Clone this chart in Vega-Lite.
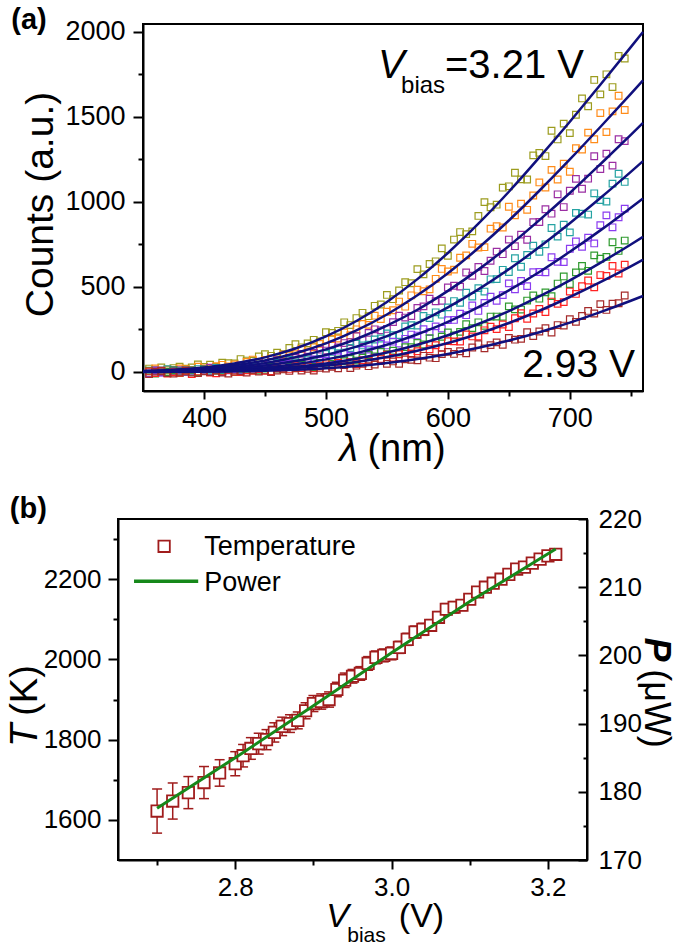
{
"$schema": "https://vega.github.io/schema/vega-lite/v6.json",
"background": "white",
"padding": {"left": 5, "top": 5, "right": 8, "bottom": 0},
"spacing": 25,
"center": true,
"config": {
  "font": "Liberation Sans",
  "view": {"stroke": "black", "strokeWidth": 2},
  "axis": {"grid": false, "domainColor": "black", "domainWidth": 2, "tickColor": "black", "tickWidth": 2, "labelColor": "black", "labelFontSize": 27, "titleColor": "black", "titleFontWeight": "normal", "labelFlush": false, "labelOverlap": false, "labelBound": false, "titleAlign": "center", "titleBaseline": "middle", "format": "d"},
  "text": {"color": "black"}
},
"datasets": {
"pts": [
{"s":"3.21","l":355,"c":20},{"s":"3.21","l":360,"c":11},{"s":"3.21","l":365,"c":27},{"s":"3.21","l":370,"c":10},{"s":"3.21","l":375,"c":23},{"s":"3.21","l":380,"c":31},{"s":"3.21","l":385,"c":19},{"s":"3.21","l":390,"c":26},{"s":"3.21","l":395,"c":44},{"s":"3.21","l":400,"c":30},
{"s":"3.21","l":405,"c":43},{"s":"3.21","l":410,"c":30},{"s":"3.21","l":415,"c":54},{"s":"3.21","l":420,"c":52},{"s":"3.21","l":425,"c":50},{"s":"3.21","l":430,"c":76},{"s":"3.21","l":435,"c":67},{"s":"3.21","l":440,"c":66},{"s":"3.21","l":445,"c":91},{"s":"3.21","l":450,"c":105},
{"s":"3.21","l":455,"c":95},{"s":"3.21","l":460,"c":113},{"s":"3.21","l":465,"c":104},{"s":"3.21","l":470,"c":141},{"s":"3.21","l":475,"c":163},{"s":"3.21","l":480,"c":145},{"s":"3.21","l":485,"c":168},{"s":"3.21","l":490,"c":189},{"s":"3.21","l":495,"c":180},{"s":"3.21","l":500,"c":234},
{"s":"3.21","l":505,"c":230},{"s":"3.21","l":510,"c":242},{"s":"3.21","l":515,"c":292},{"s":"3.21","l":520,"c":276},{"s":"3.21","l":525,"c":317},{"s":"3.21","l":530,"c":348},{"s":"3.21","l":535,"c":328},{"s":"3.21","l":540,"c":389},{"s":"3.21","l":545,"c":397},{"s":"3.21","l":550,"c":453},
{"s":"3.21","l":555,"c":428},{"s":"3.21","l":560,"c":479},{"s":"3.21","l":565,"c":528},{"s":"3.21","l":570,"c":522},{"s":"3.21","l":575,"c":605},{"s":"3.21","l":580,"c":574},{"s":"3.21","l":585,"c":635},{"s":"3.21","l":590,"c":651},{"s":"3.21","l":595,"c":727},{"s":"3.21","l":600,"c":683},
{"s":"3.21","l":605,"c":779},{"s":"3.21","l":610,"c":823},{"s":"3.21","l":615,"c":811},{"s":"3.21","l":620,"c":827},{"s":"3.21","l":625,"c":918},{"s":"3.21","l":630,"c":999},{"s":"3.21","l":635,"c":969},{"s":"3.21","l":640,"c":984},{"s":"3.21","l":645,"c":1084},{"s":"3.21","l":650,"c":1092},
{"s":"3.21","l":655,"c":1172},{"s":"3.21","l":660,"c":1133},{"s":"3.21","l":665,"c":1132},{"s":"3.21","l":670,"c":1274},{"s":"3.21","l":675,"c":1289},{"s":"3.21","l":680,"c":1270},{"s":"3.21","l":685,"c":1419},{"s":"3.21","l":690,"c":1368},{"s":"3.21","l":695,"c":1461},{"s":"3.21","l":700,"c":1405},
{"s":"3.21","l":705,"c":1513},{"s":"3.21","l":710,"c":1609},{"s":"3.21","l":715,"c":1563},{"s":"3.21","l":720,"c":1718},{"s":"3.21","l":725,"c":1633},{"s":"3.21","l":730,"c":1751},{"s":"3.21","l":735,"c":1676},{"s":"3.21","l":740,"c":1859},{"s":"3.21","l":745,"c":1844},
{"s":"3.17","l":355,"c":6},{"s":"3.17","l":360,"c":21},{"s":"3.17","l":365,"c":6},{"s":"3.17","l":370,"c":15},{"s":"3.17","l":375,"c":2},{"s":"3.17","l":380,"c":21},{"s":"3.17","l":385,"c":16},{"s":"3.17","l":390,"c":12},{"s":"3.17","l":395,"c":31},{"s":"3.17","l":400,"c":21},
{"s":"3.17","l":405,"c":17},{"s":"3.17","l":410,"c":34},{"s":"3.17","l":415,"c":42},{"s":"3.17","l":420,"c":33},{"s":"3.17","l":425,"c":44},{"s":"3.17","l":430,"c":34},{"s":"3.17","l":435,"c":59},{"s":"3.17","l":440,"c":73},{"s":"3.17","l":445,"c":56},{"s":"3.17","l":450,"c":71},
{"s":"3.17","l":455,"c":80},{"s":"3.17","l":460,"c":71},{"s":"3.17","l":465,"c":102},{"s":"3.17","l":470,"c":97},{"s":"3.17","l":475,"c":104},{"s":"3.17","l":480,"c":136},{"s":"3.17","l":485,"c":120},{"s":"3.17","l":490,"c":145},{"s":"3.17","l":495,"c":165},{"s":"3.17","l":500,"c":150},
{"s":"3.17","l":505,"c":194},{"s":"3.17","l":510,"c":197},{"s":"3.17","l":515,"c":233},{"s":"3.17","l":520,"c":216},{"s":"3.17","l":525,"c":251},{"s":"3.17","l":530,"c":282},{"s":"3.17","l":535,"c":277},{"s":"3.17","l":540,"c":331},{"s":"3.17","l":545,"c":311},{"s":"3.17","l":550,"c":354},
{"s":"3.17","l":555,"c":363},{"s":"3.17","l":560,"c":414},{"s":"3.17","l":565,"c":384},{"s":"3.17","l":570,"c":451},{"s":"3.17","l":575,"c":484},{"s":"3.17","l":580,"c":475},{"s":"3.17","l":585,"c":486},{"s":"3.17","l":590,"c":548},{"s":"3.17","l":595,"c":606},{"s":"3.17","l":600,"c":591},
{"s":"3.17","l":605,"c":602},{"s":"3.17","l":610,"c":672},{"s":"3.17","l":615,"c":686},{"s":"3.17","l":620,"c":754},{"s":"3.17","l":625,"c":732},{"s":"3.17","l":630,"c":734},{"s":"3.17","l":635,"c":843},{"s":"3.17","l":640,"c":857},{"s":"3.17","l":645,"c":850},{"s":"3.17","l":650,"c":972},
{"s":"3.17","l":655,"c":922},{"s":"3.17","l":660,"c":990},{"s":"3.17","l":665,"c":954},{"s":"3.17","l":670,"c":1038},{"s":"3.17","l":675,"c":1115},{"s":"3.17","l":680,"c":1085},{"s":"3.17","l":685,"c":1189},{"s":"3.17","l":690,"c":1132},{"s":"3.17","l":695,"c":1225},{"s":"3.17","l":700,"c":1178},
{"s":"3.17","l":705,"c":1316},{"s":"3.17","l":710,"c":1308},{"s":"3.17","l":715,"c":1408},{"s":"3.17","l":720,"c":1369},{"s":"3.17","l":725,"c":1523},{"s":"3.17","l":730,"c":1411},{"s":"3.17","l":735,"c":1533},{"s":"3.17","l":740,"c":1625},{"s":"3.17","l":745,"c":1541},
{"s":"3.13","l":355,"c":-8},{"s":"3.13","l":360,"c":9},{"s":"3.13","l":365,"c":-2},{"s":"3.13","l":370,"c":-7},{"s":"3.13","l":375,"c":6},{"s":"3.13","l":380,"c":11},{"s":"3.13","l":385,"c":0},{"s":"3.13","l":390,"c":8},{"s":"3.13","l":395,"c":-2},{"s":"3.13","l":400,"c":16},
{"s":"3.13","l":405,"c":25},{"s":"3.13","l":410,"c":9},{"s":"3.13","l":415,"c":18},{"s":"3.13","l":420,"c":25},{"s":"3.13","l":425,"c":15},{"s":"3.13","l":430,"c":38},{"s":"3.13","l":435,"c":31},{"s":"3.13","l":440,"c":33},{"s":"3.13","l":445,"c":56},{"s":"3.13","l":450,"c":41},
{"s":"3.13","l":455,"c":58},{"s":"3.13","l":460,"c":70},{"s":"3.13","l":465,"c":57},{"s":"3.13","l":470,"c":83},{"s":"3.13","l":475,"c":83},{"s":"3.13","l":480,"c":106},{"s":"3.13","l":485,"c":90},{"s":"3.13","l":490,"c":112},{"s":"3.13","l":495,"c":131},{"s":"3.13","l":500,"c":126},
{"s":"3.13","l":505,"c":161},{"s":"3.13","l":510,"c":144},{"s":"3.13","l":515,"c":170},{"s":"3.13","l":520,"c":176},{"s":"3.13","l":525,"c":210},{"s":"3.13","l":530,"c":187},{"s":"3.13","l":535,"c":230},{"s":"3.13","l":540,"c":251},{"s":"3.13","l":545,"c":245},{"s":"3.13","l":550,"c":253},
{"s":"3.13","l":555,"c":293},{"s":"3.13","l":560,"c":331},{"s":"3.13","l":565,"c":320},{"s":"3.13","l":570,"c":329},{"s":"3.13","l":575,"c":377},{"s":"3.13","l":580,"c":386},{"s":"3.13","l":585,"c":431},{"s":"3.13","l":590,"c":416},{"s":"3.13","l":595,"c":419},{"s":"3.13","l":600,"c":497},
{"s":"3.13","l":605,"c":507},{"s":"3.13","l":610,"c":502},{"s":"3.13","l":615,"c":585},{"s":"3.13","l":620,"c":566},{"s":"3.13","l":625,"c":618},{"s":"3.13","l":630,"c":594},{"s":"3.13","l":635,"c":654},{"s":"3.13","l":640,"c":708},{"s":"3.13","l":645,"c":693},{"s":"3.13","l":650,"c":779},
{"s":"3.13","l":655,"c":740},{"s":"3.13","l":660,"c":808},{"s":"3.13","l":665,"c":778},{"s":"3.13","l":670,"c":881},{"s":"3.13","l":675,"c":882},{"s":"3.13","l":680,"c":957},{"s":"3.13","l":685,"c":931},{"s":"3.13","l":690,"c":1045},{"s":"3.13","l":695,"c":970},{"s":"3.13","l":700,"c":1066},
{"s":"3.13","l":705,"c":1136},{"s":"3.13","l":710,"c":1078},{"s":"3.13","l":715,"c":1137},{"s":"3.13","l":720,"c":1269},{"s":"3.13","l":725,"c":1194},{"s":"3.13","l":730,"c":1284},{"s":"3.13","l":735,"c":1214},{"s":"3.13","l":740,"c":1369},{"s":"3.13","l":745,"c":1358},
{"s":"3.09","l":355,"c":4},{"s":"3.09","l":360,"c":-7},{"s":"3.09","l":365,"c":9},{"s":"3.09","l":370,"c":16},{"s":"3.09","l":375,"c":-1},{"s":"3.09","l":380,"c":6},{"s":"3.09","l":385,"c":10},{"s":"3.09","l":390,"c":0},{"s":"3.09","l":395,"c":17},{"s":"3.09","l":400,"c":9},
{"s":"3.09","l":405,"c":8},{"s":"3.09","l":410,"c":24},{"s":"3.09","l":415,"c":10},{"s":"3.09","l":420,"c":20},{"s":"3.09","l":425,"c":27},{"s":"3.09","l":430,"c":12},{"s":"3.09","l":435,"c":31},{"s":"3.09","l":440,"c":28},{"s":"3.09","l":445,"c":43},{"s":"3.09","l":450,"c":28},
{"s":"3.09","l":455,"c":42},{"s":"3.09","l":460,"c":54},{"s":"3.09","l":465,"c":47},{"s":"3.09","l":470,"c":71},{"s":"3.09","l":475,"c":56},{"s":"3.09","l":480,"c":73},{"s":"3.09","l":485,"c":74},{"s":"3.09","l":490,"c":95},{"s":"3.09","l":495,"c":77},{"s":"3.09","l":500,"c":106},
{"s":"3.09","l":505,"c":118},{"s":"3.09","l":510,"c":111},{"s":"3.09","l":515,"c":114},{"s":"3.09","l":520,"c":141},{"s":"3.09","l":525,"c":166},{"s":"3.09","l":530,"c":156},{"s":"3.09","l":535,"c":160},{"s":"3.09","l":540,"c":191},{"s":"3.09","l":545,"c":197},{"s":"3.09","l":550,"c":227},
{"s":"3.09","l":555,"c":216},{"s":"3.09","l":560,"c":217},{"s":"3.09","l":565,"c":268},{"s":"3.09","l":570,"c":275},{"s":"3.09","l":575,"c":273},{"s":"3.09","l":580,"c":329},{"s":"3.09","l":585,"c":317},{"s":"3.09","l":590,"c":351},{"s":"3.09","l":595,"c":337},{"s":"3.09","l":600,"c":380},
{"s":"3.09","l":605,"c":417},{"s":"3.09","l":610,"c":407},{"s":"3.09","l":615,"c":466},{"s":"3.09","l":620,"c":443},{"s":"3.09","l":625,"c":493},{"s":"3.09","l":630,"c":473},{"s":"3.09","l":635,"c":545},{"s":"3.09","l":640,"c":546},{"s":"3.09","l":645,"c":601},{"s":"3.09","l":650,"c":588},
{"s":"3.09","l":655,"c":669},{"s":"3.09","l":660,"c":619},{"s":"3.09","l":665,"c":688},{"s":"3.09","l":670,"c":743},{"s":"3.09","l":675,"c":707},{"s":"3.09","l":680,"c":751},{"s":"3.09","l":685,"c":847},{"s":"3.09","l":690,"c":796},{"s":"3.09","l":695,"c":866},{"s":"3.09","l":700,"c":821},
{"s":"3.09","l":705,"c":936},{"s":"3.09","l":710,"c":931},{"s":"3.09","l":715,"c":926},{"s":"3.09","l":720,"c":1051},{"s":"3.09","l":725,"c":1011},{"s":"3.09","l":730,"c":1002},{"s":"3.09","l":735,"c":1108},{"s":"3.09","l":740,"c":1166},{"s":"3.09","l":745,"c":1118},
{"s":"3.05","l":355,"c":-10},{"s":"3.05","l":360,"c":7},{"s":"3.05","l":365,"c":-3},{"s":"3.05","l":370,"c":-4},{"s":"3.05","l":375,"c":10},{"s":"3.05","l":380,"c":-5},{"s":"3.05","l":385,"c":3},{"s":"3.05","l":390,"c":8},{"s":"3.05","l":395,"c":-7},{"s":"3.05","l":400,"c":8},
{"s":"3.05","l":405,"c":3},{"s":"3.05","l":410,"c":14},{"s":"3.05","l":415,"c":0},{"s":"3.05","l":420,"c":10},{"s":"3.05","l":425,"c":18},{"s":"3.05","l":430,"c":10},{"s":"3.05","l":435,"c":27},{"s":"3.05","l":440,"c":13},{"s":"3.05","l":445,"c":25},{"s":"3.05","l":450,"c":24},
{"s":"3.05","l":455,"c":39},{"s":"3.05","l":460,"c":22},{"s":"3.05","l":465,"c":41},{"s":"3.05","l":470,"c":49},{"s":"3.05","l":475,"c":41},{"s":"3.05","l":480,"c":41},{"s":"3.05","l":485,"c":58},{"s":"3.05","l":490,"c":74},{"s":"3.05","l":495,"c":65},{"s":"3.05","l":500,"c":66},
{"s":"3.05","l":505,"c":86},{"s":"3.05","l":510,"c":87},{"s":"3.05","l":515,"c":106},{"s":"3.05","l":520,"c":96},{"s":"3.05","l":525,"c":95},{"s":"3.05","l":530,"c":129},{"s":"3.05","l":535,"c":132},{"s":"3.05","l":540,"c":128},{"s":"3.05","l":545,"c":166},{"s":"3.05","l":550,"c":156},
{"s":"3.05","l":555,"c":178},{"s":"3.05","l":560,"c":167},{"s":"3.05","l":565,"c":195},{"s":"3.05","l":570,"c":220},{"s":"3.05","l":575,"c":214},{"s":"3.05","l":580,"c":252},{"s":"3.05","l":585,"c":235},{"s":"3.05","l":590,"c":268},{"s":"3.05","l":595,"c":255},{"s":"3.05","l":600,"c":305},
{"s":"3.05","l":605,"c":306},{"s":"3.05","l":610,"c":343},{"s":"3.05","l":615,"c":334},{"s":"3.05","l":620,"c":391},{"s":"3.05","l":625,"c":359},{"s":"3.05","l":630,"c":406},{"s":"3.05","l":635,"c":443},{"s":"3.05","l":640,"c":419},{"s":"3.05","l":645,"c":452},{"s":"3.05","l":650,"c":521},
{"s":"3.05","l":655,"c":486},{"s":"3.05","l":660,"c":535},{"s":"3.05","l":665,"c":505},{"s":"3.05","l":670,"c":587},{"s":"3.05","l":675,"c":588},{"s":"3.05","l":680,"c":586},{"s":"3.05","l":685,"c":675},{"s":"3.05","l":690,"c":648},{"s":"3.05","l":695,"c":646},{"s":"3.05","l":700,"c":725},
{"s":"3.05","l":705,"c":768},{"s":"3.05","l":710,"c":736},{"s":"3.05","l":715,"c":790},{"s":"3.05","l":720,"c":756},{"s":"3.05","l":725,"c":864},{"s":"3.05","l":730,"c":921},{"s":"3.05","l":735,"c":851},{"s":"3.05","l":740,"c":910},{"s":"3.05","l":745,"c":961},
{"s":"3.01","l":355,"c":7},{"s":"3.01","l":360,"c":-9},{"s":"3.01","l":365,"c":5},{"s":"3.01","l":370,"c":0},{"s":"3.01","l":375,"c":10},{"s":"3.01","l":380,"c":-6},{"s":"3.01","l":385,"c":3},{"s":"3.01","l":390,"c":9},{"s":"3.01","l":395,"c":0},{"s":"3.01","l":400,"c":15},
{"s":"3.01","l":405,"c":-1},{"s":"3.01","l":410,"c":8},{"s":"3.01","l":415,"c":5},{"s":"3.01","l":420,"c":16},{"s":"3.01","l":425,"c":-1},{"s":"3.01","l":430,"c":15},{"s":"3.01","l":435,"c":18},{"s":"3.01","l":440,"c":10},{"s":"3.01","l":445,"c":8},{"s":"3.01","l":450,"c":20},
{"s":"3.01","l":455,"c":31},{"s":"3.01","l":460,"c":20},{"s":"3.01","l":465,"c":18},{"s":"3.01","l":470,"c":32},{"s":"3.01","l":475,"c":31},{"s":"3.01","l":480,"c":43},{"s":"3.01","l":485,"c":33},{"s":"3.01","l":490,"c":29},{"s":"3.01","l":495,"c":53},{"s":"3.01","l":500,"c":53},
{"s":"3.01","l":505,"c":47},{"s":"3.01","l":510,"c":73},{"s":"3.01","l":515,"c":63},{"s":"3.01","l":520,"c":77},{"s":"3.01","l":525,"c":67},{"s":"3.01","l":530,"c":84},{"s":"3.01","l":535,"c":100},{"s":"3.01","l":540,"c":92},{"s":"3.01","l":545,"c":118},{"s":"3.01","l":550,"c":105},
{"s":"3.01","l":555,"c":125},{"s":"3.01","l":560,"c":114},{"s":"3.01","l":565,"c":146},{"s":"3.01","l":570,"c":146},{"s":"3.01","l":575,"c":171},{"s":"3.01","l":580,"c":162},{"s":"3.01","l":585,"c":199},{"s":"3.01","l":590,"c":176},{"s":"3.01","l":595,"c":207},{"s":"3.01","l":600,"c":233},
{"s":"3.01","l":605,"c":215},{"s":"3.01","l":610,"c":236},{"s":"3.01","l":615,"c":281},{"s":"3.01","l":620,"c":258},{"s":"3.01","l":625,"c":292},{"s":"3.01","l":630,"c":271},{"s":"3.01","l":635,"c":326},{"s":"3.01","l":640,"c":326},{"s":"3.01","l":645,"c":325},{"s":"3.01","l":650,"c":386},
{"s":"3.01","l":655,"c":368},{"s":"3.01","l":660,"c":367},{"s":"3.01","l":665,"c":420},{"s":"3.01","l":670,"c":450},{"s":"3.01","l":675,"c":431},{"s":"3.01","l":680,"c":468},{"s":"3.01","l":685,"c":446},{"s":"3.01","l":690,"c":520},{"s":"3.01","l":695,"c":562},{"s":"3.01","l":700,"c":517},
{"s":"3.01","l":705,"c":586},{"s":"3.01","l":710,"c":624},{"s":"3.01","l":715,"c":595},{"s":"3.01","l":720,"c":686},{"s":"3.01","l":725,"c":666},{"s":"3.01","l":730,"c":677},{"s":"3.01","l":735,"c":763},{"s":"3.01","l":740,"c":712},{"s":"3.01","l":745,"c":773},
{"s":"2.97","l":355,"c":3},{"s":"2.97","l":360,"c":-7},{"s":"2.97","l":365,"c":7},{"s":"2.97","l":370,"c":-9},{"s":"2.97","l":375,"c":-1},{"s":"2.97","l":380,"c":-5},{"s":"2.97","l":385,"c":6},{"s":"2.97","l":390,"c":-12},{"s":"2.97","l":395,"c":3},{"s":"2.97","l":400,"c":5},
{"s":"2.97","l":405,"c":-4},{"s":"2.97","l":410,"c":-8},{"s":"2.97","l":415,"c":3},{"s":"2.97","l":420,"c":12},{"s":"2.97","l":425,"c":1},{"s":"2.97","l":430,"c":-1},{"s":"2.97","l":435,"c":10},{"s":"2.97","l":440,"c":7},{"s":"2.97","l":445,"c":17},{"s":"2.97","l":450,"c":7},
{"s":"2.97","l":455,"c":4},{"s":"2.97","l":460,"c":21},{"s":"2.97","l":465,"c":20},{"s":"2.97","l":470,"c":15},{"s":"2.97","l":475,"c":34},{"s":"2.97","l":480,"c":23},{"s":"2.97","l":485,"c":32},{"s":"2.97","l":490,"c":22},{"s":"2.97","l":495,"c":34},{"s":"2.97","l":500,"c":45},
{"s":"2.97","l":505,"c":37},{"s":"2.97","l":510,"c":55},{"s":"2.97","l":515,"c":42},{"s":"2.97","l":520,"c":57},{"s":"2.97","l":525,"c":46},{"s":"2.97","l":530,"c":69},{"s":"2.97","l":535,"c":67},{"s":"2.97","l":540,"c":83},{"s":"2.97","l":545,"c":76},{"s":"2.97","l":550,"c":102},
{"s":"2.97","l":555,"c":83},{"s":"2.97","l":560,"c":104},{"s":"2.97","l":565,"c":121},{"s":"2.97","l":570,"c":107},{"s":"2.97","l":575,"c":122},{"s":"2.97","l":580,"c":153},{"s":"2.97","l":585,"c":134},{"s":"2.97","l":590,"c":157},{"s":"2.97","l":595,"c":142},{"s":"2.97","l":600,"c":181},
{"s":"2.97","l":605,"c":180},{"s":"2.97","l":610,"c":179},{"s":"2.97","l":615,"c":221},{"s":"2.97","l":620,"c":209},{"s":"2.97","l":625,"c":208},{"s":"2.97","l":630,"c":245},{"s":"2.97","l":635,"c":266},{"s":"2.97","l":640,"c":252},{"s":"2.97","l":645,"c":279},{"s":"2.97","l":650,"c":264},
{"s":"2.97","l":655,"c":316},{"s":"2.97","l":660,"c":346},{"s":"2.97","l":665,"c":313},{"s":"2.97","l":670,"c":344},{"s":"2.97","l":675,"c":371},{"s":"2.97","l":680,"c":352},{"s":"2.97","l":685,"c":414},{"s":"2.97","l":690,"c":401},{"s":"2.97","l":695,"c":411},{"s":"2.97","l":700,"c":473},
{"s":"2.97","l":705,"c":459},{"s":"2.97","l":710,"c":505},{"s":"2.97","l":715,"c":538},{"s":"2.97","l":720,"c":498},{"s":"2.97","l":725,"c":570},{"s":"2.97","l":730,"c":565},{"s":"2.97","l":735,"c":624},{"s":"2.97","l":740,"c":579},{"s":"2.97","l":745,"c":631},
{"s":"2.93","l":355,"c":-12},{"s":"2.93","l":360,"c":2},{"s":"2.93","l":365,"c":4},{"s":"2.93","l":370,"c":-6},{"s":"2.93","l":375,"c":-9},{"s":"2.93","l":380,"c":1},{"s":"2.93","l":385,"c":9},{"s":"2.93","l":390,"c":-3},{"s":"2.93","l":395,"c":-7},{"s":"2.93","l":400,"c":4},
{"s":"2.93","l":405,"c":0},{"s":"2.93","l":410,"c":8},{"s":"2.93","l":415,"c":-3},{"s":"2.93","l":420,"c":-9},{"s":"2.93","l":425,"c":8},{"s":"2.93","l":430,"c":4},{"s":"2.93","l":435,"c":-3},{"s":"2.93","l":440,"c":13},{"s":"2.93","l":445,"c":2},{"s":"2.93","l":450,"c":9},
{"s":"2.93","l":455,"c":-1},{"s":"2.93","l":460,"c":8},{"s":"2.93","l":465,"c":15},{"s":"2.93","l":470,"c":6},{"s":"2.93","l":475,"c":21},{"s":"2.93","l":480,"c":8},{"s":"2.93","l":485,"c":18},{"s":"2.93","l":490,"c":8},{"s":"2.93","l":495,"c":24},{"s":"2.93","l":500,"c":20},
{"s":"2.93","l":505,"c":30},{"s":"2.93","l":510,"c":22},{"s":"2.93","l":515,"c":40},{"s":"2.93","l":520,"c":23},{"s":"2.93","l":525,"c":37},{"s":"2.93","l":530,"c":48},{"s":"2.93","l":535,"c":34},{"s":"2.93","l":540,"c":43},{"s":"2.93","l":545,"c":64},{"s":"2.93","l":550,"c":48},
{"s":"2.93","l":555,"c":62},{"s":"2.93","l":560,"c":48},{"s":"2.93","l":565,"c":74},{"s":"2.93","l":570,"c":71},{"s":"2.93","l":575,"c":68},{"s":"2.93","l":580,"c":95},{"s":"2.93","l":585,"c":84},{"s":"2.93","l":590,"c":81},{"s":"2.93","l":595,"c":105},{"s":"2.93","l":600,"c":118},
{"s":"2.93","l":605,"c":106},{"s":"2.93","l":610,"c":122},{"s":"2.93","l":615,"c":110},{"s":"2.93","l":620,"c":144},{"s":"2.93","l":625,"c":163},{"s":"2.93","l":630,"c":139},{"s":"2.93","l":635,"c":158},{"s":"2.93","l":640,"c":174},{"s":"2.93","l":645,"c":160},{"s":"2.93","l":650,"c":200},
{"s":"2.93","l":655,"c":190},{"s":"2.93","l":660,"c":195},{"s":"2.93","l":665,"c":234},{"s":"2.93","l":670,"c":211},{"s":"2.93","l":675,"c":238},{"s":"2.93","l":680,"c":258},{"s":"2.93","l":685,"c":232},{"s":"2.93","l":690,"c":276},{"s":"2.93","l":695,"c":273},{"s":"2.93","l":700,"c":310},
{"s":"2.93","l":705,"c":295},{"s":"2.93","l":710,"c":329},{"s":"2.93","l":715,"c":359},{"s":"2.93","l":720,"c":344},{"s":"2.93","l":725,"c":399},{"s":"2.93","l":730,"c":365},{"s":"2.93","l":735,"c":402},{"s":"2.93","l":740,"c":404},{"s":"2.93","l":745,"c":450}
],
"fits": [
{"s":"3.21","l":350,"f":5},{"s":"3.21","l":375,"f":13},{"s":"3.21","l":400,"f":27},{"s":"3.21","l":425,"f":50},{"s":"3.21","l":450,"f":86},{"s":"3.21","l":475,"f":138},{"s":"3.21","l":500,"f":209},{"s":"3.21","l":525,"f":300},{"s":"3.21","l":550,"f":412},{"s":"3.21","l":575,"f":546},{"s":"3.21","l":600,"f":700},{"s":"3.21","l":625,"f":872},{"s":"3.21","l":650,"f":1060},{"s":"3.21","l":675,"f":1262},{"s":"3.21","l":700,"f":1472},{"s":"3.21","l":725,"f":1690},{"s":"3.21","l":750,"f":1911},{"s":"3.21","l":760,"f":2000},
{"s":"3.17","l":350,"f":4},{"s":"3.17","l":375,"f":10},{"s":"3.17","l":400,"f":20},{"s":"3.17","l":425,"f":39},{"s":"3.17","l":450,"f":68},{"s":"3.17","l":475,"f":110},{"s":"3.17","l":500,"f":168},{"s":"3.17","l":525,"f":244},{"s":"3.17","l":550,"f":338},{"s":"3.17","l":575,"f":451},{"s":"3.17","l":600,"f":581},{"s":"3.17","l":625,"f":729},{"s":"3.17","l":650,"f":891},{"s":"3.17","l":675,"f":1066},{"s":"3.17","l":700,"f":1250},{"s":"3.17","l":725,"f":1441},{"s":"3.17","l":750,"f":1636},{"s":"3.17","l":760,"f":1715},
{"s":"3.13","l":350,"f":3},{"s":"3.13","l":375,"f":7},{"s":"3.13","l":400,"f":15},{"s":"3.13","l":425,"f":29},{"s":"3.13","l":450,"f":52},{"s":"3.13","l":475,"f":86},{"s":"3.13","l":500,"f":133},{"s":"3.13","l":525,"f":194},{"s":"3.13","l":550,"f":272},{"s":"3.13","l":575,"f":366},{"s":"3.13","l":600,"f":477},{"s":"3.13","l":625,"f":602},{"s":"3.13","l":650,"f":741},{"s":"3.13","l":675,"f":893},{"s":"3.13","l":700,"f":1053},{"s":"3.13","l":725,"f":1222},{"s":"3.13","l":750,"f":1395},{"s":"3.13","l":760,"f":1465},
{"s":"3.09","l":350,"f":2},{"s":"3.09","l":375,"f":5},{"s":"3.09","l":400,"f":11},{"s":"3.09","l":425,"f":21},{"s":"3.09","l":450,"f":38},{"s":"3.09","l":475,"f":64},{"s":"3.09","l":500,"f":100},{"s":"3.09","l":525,"f":149},{"s":"3.09","l":550,"f":211},{"s":"3.09","l":575,"f":288},{"s":"3.09","l":600,"f":380},{"s":"3.09","l":625,"f":486},{"s":"3.09","l":650,"f":604},{"s":"3.09","l":675,"f":735},{"s":"3.09","l":700,"f":875},{"s":"3.09","l":725,"f":1023},{"s":"3.09","l":750,"f":1177},{"s":"3.09","l":760,"f":1240},
{"s":"3.05","l":350,"f":1},{"s":"3.05","l":375,"f":3},{"s":"3.05","l":400,"f":7},{"s":"3.05","l":425,"f":15},{"s":"3.05","l":450,"f":27},{"s":"3.05","l":475,"f":46},{"s":"3.05","l":500,"f":74},{"s":"3.05","l":525,"f":111},{"s":"3.05","l":550,"f":160},{"s":"3.05","l":575,"f":222},{"s":"3.05","l":600,"f":295},{"s":"3.05","l":625,"f":382},{"s":"3.05","l":650,"f":480},{"s":"3.05","l":675,"f":588},{"s":"3.05","l":700,"f":707},{"s":"3.05","l":725,"f":833},{"s":"3.05","l":750,"f":966},{"s":"3.05","l":760,"f":1020},
{"s":"3.01","l":350,"f":1},{"s":"3.01","l":375,"f":2},{"s":"3.01","l":400,"f":5},{"s":"3.01","l":425,"f":9},{"s":"3.01","l":450,"f":18},{"s":"3.01","l":475,"f":31},{"s":"3.01","l":500,"f":50},{"s":"3.01","l":525,"f":78},{"s":"3.01","l":550,"f":114},{"s":"3.01","l":575,"f":160},{"s":"3.01","l":600,"f":216},{"s":"3.01","l":625,"f":282},{"s":"3.01","l":650,"f":358},{"s":"3.01","l":675,"f":444},{"s":"3.01","l":700,"f":539},{"s":"3.01","l":725,"f":642},{"s":"3.01","l":750,"f":750},{"s":"3.01","l":760,"f":795},
{"s":"2.97","l":350,"f":1},{"s":"2.97","l":375,"f":1},{"s":"2.97","l":400,"f":3},{"s":"2.97","l":425,"f":7},{"s":"2.97","l":450,"f":13},{"s":"2.97","l":475,"f":23},{"s":"2.97","l":500,"f":38},{"s":"2.97","l":525,"f":59},{"s":"2.97","l":550,"f":88},{"s":"2.97","l":575,"f":125},{"s":"2.97","l":600,"f":170},{"s":"2.97","l":625,"f":225},{"s":"2.97","l":650,"f":288},{"s":"2.97","l":675,"f":360},{"s":"2.97","l":700,"f":441},{"s":"2.97","l":725,"f":528},{"s":"2.97","l":750,"f":621},{"s":"2.97","l":760,"f":660},
{"s":"2.93","l":350,"f":0},{"s":"2.93","l":375,"f":1},{"s":"2.93","l":400,"f":2},{"s":"2.93","l":425,"f":4},{"s":"2.93","l":450,"f":7},{"s":"2.93","l":475,"f":13},{"s":"2.93","l":500,"f":22},{"s":"2.93","l":525,"f":35},{"s":"2.93","l":550,"f":53},{"s":"2.93","l":575,"f":76},{"s":"2.93","l":600,"f":106},{"s":"2.93","l":625,"f":142},{"s":"2.93","l":650,"f":185},{"s":"2.93","l":675,"f":234},{"s":"2.93","l":700,"f":290},{"s":"2.93","l":725,"f":352},{"s":"2.93","l":750,"f":419},{"s":"2.93","l":760,"f":447}
],
"temp": [
{"v":2.70,"t":1622,"lo":1567,"hi":1677},{"v":2.72,"t":1647,"lo":1602,"hi":1692},{"v":2.74,"t":1668,"lo":1628,"hi":1708},{"v":2.76,"t":1693,"lo":1653,"hi":1733},{"v":2.78,"t":1717,"lo":1684,"hi":1750},{"v":2.80,"t":1740,"lo":1710,"hi":1770},
{"v":2.81,"t":1760,"lo":1732,"hi":1788},{"v":2.82,"t":1778,"lo":1751,"hi":1805},{"v":2.83,"t":1790,"lo":1764,"hi":1816},{"v":2.84,"t":1800,"lo":1775,"hi":1825},{"v":2.85,"t":1818,"lo":1794,"hi":1842},{"v":2.86,"t":1833,"lo":1810,"hi":1856},
{"v":2.87,"t":1840,"lo":1818,"hi":1862},{"v":2.88,"t":1848,"lo":1827,"hi":1869},{"v":2.89,"t":1872,"lo":1852,"hi":1892},{"v":2.90,"t":1890,"lo":1870,"hi":1910},{"v":2.91,"t":1895,"lo":1876,"hi":1914},{"v":2.92,"t":1900,"lo":1881,"hi":1919},
{"v":2.93,"t":1925,"lo":1907,"hi":1943},{"v":2.94,"t":1948,"lo":1930,"hi":1966},{"v":2.95,"t":1958,"lo":1941,"hi":1975},{"v":2.96,"t":1965,"lo":1948,"hi":1982},{"v":2.97,"t":1990,"lo":1973,"hi":2007},{"v":2.98,"t":2005,"lo":1989,"hi":2021},
{"v":2.99,"t":2010,"lo":1994,"hi":2026},{"v":3.00,"t":2015,"lo":1999,"hi":2031},{"v":3.01,"t":2030,"lo":2015,"hi":2045},{"v":3.02,"t":2050,"lo":2035,"hi":2065},{"v":3.03,"t":2068,"lo":2053,"hi":2083},{"v":3.04,"t":2075,"lo":2060,"hi":2090},
{"v":3.05,"t":2085,"lo":2071,"hi":2099},{"v":3.06,"t":2105,"lo":2091,"hi":2119},{"v":3.07,"t":2125,"lo":2111,"hi":2139},{"v":3.08,"t":2130,"lo":2116,"hi":2144},{"v":3.09,"t":2135,"lo":2122,"hi":2148},{"v":3.10,"t":2150,"lo":2137,"hi":2163},
{"v":3.11,"t":2168,"lo":2155,"hi":2181},{"v":3.12,"t":2180,"lo":2167,"hi":2193},{"v":3.13,"t":2190,"lo":2177,"hi":2203},{"v":3.14,"t":2200,"lo":2188,"hi":2212},{"v":3.15,"t":2212,"lo":2200,"hi":2224},{"v":3.16,"t":2225,"lo":2213,"hi":2237},
{"v":3.17,"t":2230,"lo":2218,"hi":2242},{"v":3.18,"t":2240,"lo":2228,"hi":2252},{"v":3.19,"t":2250,"lo":2238,"hi":2262},{"v":3.20,"t":2258,"lo":2246,"hi":2270},{"v":3.21,"t":2262,"lo":2250,"hi":2274}
],
"power": [
{"v":2.70,"p":177.6},{"v":2.80,"p":185.0},{"v":2.90,"p":192.6},{"v":3.00,"p":200.4},{"v":3.10,"p":207.9},{"v":3.21,"p":215.6}
]
},
"vconcat": [
{
"width": 500, "height": 367,
"layer": [
 {"data": {"name": "pts"},
  "mark": {"type": "point", "shape": "square", "filled": false, "size": 44, "strokeWidth": 1.2, "opacity": 1},
  "encoding": {
   "x": {"field": "l", "type": "quantitative", "scale": {"domain": [350, 760], "nice": false, "zero": false},
     "axis": {"orient": "bottom", "values": [400, 500, 600, 700], "tickSize": 8, "labelPadding": 6, "title": "(nm)", "titleFontSize": 38, "titleX": 263, "titleY": 58, "titleAngle": 0}},
   "y": {"field": "c", "type": "quantitative", "scale": {"domain": [-112, 2047], "nice": false, "zero": false},
     "axis": {"orient": "left", "values": [0, 500, 1000, 1500, 2000], "tickSize": 10, "labelPadding": 8, "title": "Counts (a.u.)", "titleFontSize": 39, "titleX": -103, "titleY": 180, "titleAngle": -90}},
   "color": {"field": "s", "type": "nominal", "scale": {"domain": ["3.21","3.17","3.13","3.09","3.05","3.01","2.97","2.93"], "range": ["#9c9c1e","#ff8c1a","#9b2ea3","#26a3a3","#8b3df0","#2e9a2e","#ff2222","#a52a2a"]}, "legend": null}
  }},
 {"data": {"name": "fits"},
  "mark": {"type": "line", "color": "#10107d", "strokeWidth": 2.5, "interpolate": "monotone"},
  "encoding": {
   "x": {"field": "l", "type": "quantitative", "scale": {"domain": [350, 760], "nice": false, "zero": false},
     "axis": {"orient": "bottom", "values": [450, 550, 650, 750], "tickSize": 5, "labels": false, "domain": false, "title": "λ", "titleFontSize": 38, "titleFontStyle": "italic", "titleX": 205, "titleY": 58, "titleAngle": 0}},
   "y": {"field": "f", "type": "quantitative", "scale": {"domain": [-112, 2047], "nice": false, "zero": false},
     "axis": {"orient": "left", "values": [250, 750, 1250, 1750], "tickSize": 5, "labels": false, "domain": false, "title": null}},
   "detail": {"field": "s", "type": "nominal"}
  }},
 {"data": {"values": [{}]},
  "mark": {"type": "text", "text": "V", "fontSize": 40, "fontStyle": "italic", "align": "left", "baseline": "alphabetic"},
  "encoding": {"x": {"datum": 542.7, "type": "quantitative", "scale": {"domain": [350, 760], "nice": false, "zero": false}, "axis": null},
   "y": {"datum": 1729, "type": "quantitative", "scale": {"domain": [-112, 2047], "nice": false, "zero": false}, "axis": null}}},
 {"data": {"values": [{}]},
  "mark": {"type": "text", "text": "bias", "fontSize": 24, "align": "left", "baseline": "alphabetic"},
  "encoding": {"x": {"datum": 561.6, "type": "quantitative", "scale": {"domain": [350, 760], "nice": false, "zero": false}, "axis": null},
   "y": {"datum": 1641, "type": "quantitative", "scale": {"domain": [-112, 2047], "nice": false, "zero": false}, "axis": null}}},
 {"data": {"values": [{}]},
  "mark": {"type": "text", "text": "=3.21 V", "fontSize": 40, "align": "left", "baseline": "alphabetic"},
  "encoding": {"x": {"datum": 597.6, "type": "quantitative", "scale": {"domain": [350, 760], "nice": false, "zero": false}, "axis": null},
   "y": {"datum": 1729, "type": "quantitative", "scale": {"domain": [-112, 2047], "nice": false, "zero": false}, "axis": null}}},
 {"data": {"values": [{}]},
  "mark": {"type": "text", "text": "2.93 V", "fontSize": 39, "align": "right", "baseline": "alphabetic"},
  "encoding": {"x": {"datum": 753.4, "type": "quantitative", "scale": {"domain": [350, 760], "nice": false, "zero": false}, "axis": null},
   "y": {"datum": -29, "type": "quantitative", "scale": {"domain": [-112, 2047], "nice": false, "zero": false}, "axis": null}}},
 {"data": {"values": [{}]},
  "mark": {"type": "text", "text": "(a)", "fontSize": 29, "fontWeight": "bold", "align": "left", "baseline": "alphabetic"},
  "encoding": {"x": {"datum": 242, "type": "quantitative", "scale": {"domain": [350, 760], "nice": false, "zero": false}, "axis": null},
   "y": {"datum": 2015, "type": "quantitative", "scale": {"domain": [-112, 2047], "nice": false, "zero": false}, "axis": null}}}
],
"resolve": {"axis": {"x": "independent", "y": "independent"}}
},
{
"width": 469, "height": 341,
"layer": [
 {"layer": [
   {"data": {"name": "temp"},
    "mark": {"type": "rule", "color": "#a01c1c", "strokeWidth": 1.5},
    "encoding": {
     "x": {"field": "v", "type": "quantitative", "scale": {"domain": [2.65, 3.25], "nice": false, "zero": false},
       "axis": {"orient": "bottom", "values": [2.8, 3.0, 3.2], "format": ".1f", "tickSize": 9, "labelPadding": 5, "labelFontSize": 26, "title": "(V)", "titleFontSize": 34, "titleX": 303, "titleY": 56, "titleAngle": 0}},
     "y": {"field": "lo", "type": "quantitative", "scale": {"domain": [1500, 2350], "nice": false, "zero": false},
       "axis": {"orient": "left", "values": [1600, 1800, 2000, 2200], "tickSize": 10, "labelPadding": 7, "labelFontSize": 26, "title": "(K)", "titleFontSize": 38, "titleX": -93, "titleY": 171, "titleAngle": -90}},
     "y2": {"field": "hi"}
    }},
   {"data": {"name": "temp"},
    "mark": {"type": "tick", "orient": "horizontal", "color": "#a01c1c", "size": 10, "thickness": 1.5, "opacity": 1},
    "encoding": {
     "x": {"field": "v", "type": "quantitative", "scale": {"domain": [2.65, 3.25], "nice": false, "zero": false},
       "axis": {"orient": "bottom", "values": [2.7, 2.9, 3.1], "tickSize": 5, "labels": false, "domain": false, "title": "bias", "titleFontSize": 21, "titleX": 248, "titleY": 75, "titleAngle": 0}},
     "y": {"field": "hi", "type": "quantitative", "scale": {"domain": [1500, 2350], "nice": false, "zero": false},
       "axis": {"orient": "left", "values": [1700, 1900, 2100, 2300], "tickSize": 5, "labels": false, "domain": false, "title": "T", "titleFontSize": 38, "titleFontStyle": "italic", "titleX": -93, "titleY": 216, "titleAngle": -90}}
    }},
   {"data": {"name": "temp"},
    "mark": {"type": "tick", "orient": "horizontal", "color": "#a01c1c", "size": 10, "thickness": 1.5, "opacity": 1},
    "encoding": {
     "x": {"field": "v", "type": "quantitative", "scale": {"domain": [2.65, 3.25], "nice": false, "zero": false},
       "axis": {"orient": "bottom", "ticks": false, "labels": false, "domain": false, "title": "V", "titleFontSize": 34, "titleFontStyle": "italic", "titleX": 219, "titleY": 56, "titleAngle": 0}},
     "y": {"field": "lo", "type": "quantitative", "scale": {"domain": [1500, 2350], "nice": false, "zero": false}, "axis": null}
    }},
   {"data": {"name": "temp"},
    "mark": {"type": "point", "shape": "square", "filled": true, "fill": "white", "stroke": "#a01c1c", "strokeWidth": 1.8, "size": 130, "opacity": 1},
    "encoding": {
     "x": {"field": "v", "type": "quantitative", "scale": {"domain": [2.65, 3.25], "nice": false, "zero": false}, "axis": null},
     "y": {"field": "t", "type": "quantitative", "scale": {"domain": [1500, 2350], "nice": false, "zero": false}, "axis": null}
    }},
   {"data": {"values": [{}]},
    "mark": {"type": "point", "shape": "square", "filled": true, "fill": "white", "stroke": "#a01c1c", "strokeWidth": 1.8, "size": 130, "opacity": 1},
    "encoding": {
     "x": {"datum": 2.709, "type": "quantitative", "scale": {"domain": [2.65, 3.25], "nice": false, "zero": false}, "axis": null},
     "y": {"datum": 2282, "type": "quantitative", "scale": {"domain": [1500, 2350], "nice": false, "zero": false}, "axis": null}
    }},
   {"data": {"values": [{}]},
    "mark": {"type": "rule", "color": "#16881a", "strokeWidth": 3.5},
    "encoding": {
     "x": {"datum": 2.6705, "type": "quantitative", "scale": {"domain": [2.65, 3.25], "nice": false, "zero": false}, "axis": null},
     "x2": {"datum": 2.7526},
     "y": {"datum": 2195, "type": "quantitative", "scale": {"domain": [1500, 2350], "nice": false, "zero": false}, "axis": null}
    }},
   {"data": {"values": [{}]},
    "mark": {"type": "text", "text": "Temperature", "fontSize": 27, "align": "left", "baseline": "alphabetic"},
    "encoding": {
     "x": {"datum": 2.7603, "type": "quantitative", "scale": {"domain": [2.65, 3.25], "nice": false, "zero": false}, "axis": null},
     "y": {"datum": 2260, "type": "quantitative", "scale": {"domain": [1500, 2350], "nice": false, "zero": false}, "axis": null}
    }},
   {"data": {"values": [{}]},
    "mark": {"type": "text", "text": "Power", "fontSize": 27, "align": "left", "baseline": "alphabetic"},
    "encoding": {
     "x": {"datum": 2.7603, "type": "quantitative", "scale": {"domain": [2.65, 3.25], "nice": false, "zero": false}, "axis": null},
     "y": {"datum": 2170, "type": "quantitative", "scale": {"domain": [1500, 2350], "nice": false, "zero": false}, "axis": null}
    }},
   {"data": {"values": [{}]},
    "mark": {"type": "text", "text": "(b)", "fontSize": 29, "fontWeight": "bold", "align": "left", "baseline": "alphabetic"},
    "encoding": {
     "x": {"datum": 2.5116, "type": "quantitative", "scale": {"domain": [2.65, 3.25], "nice": false, "zero": false}, "axis": null},
     "y": {"datum": 2352, "type": "quantitative", "scale": {"domain": [1500, 2350], "nice": false, "zero": false}, "axis": null}
    }}
  ],
  "resolve": {"axis": {"x": "independent", "y": "independent"}}},
 {"layer": [
   {"data": {"name": "power"},
    "mark": {"type": "line", "color": "#16881a", "strokeWidth": 3},
    "encoding": {
     "x": {"field": "v", "type": "quantitative", "scale": {"domain": [2.65, 3.25], "nice": false, "zero": false}, "axis": null},
     "y": {"field": "p", "type": "quantitative", "scale": {"domain": [170, 220], "nice": false, "zero": false},
       "axis": {"orient": "right", "values": [170, 180, 190, 200, 210, 220], "tickSize": -9, "labelPadding": 20, "labelFontSize": 26, "title": "(μW)", "titleFontSize": 36, "titleX": 68, "titleY": 189, "titleAngle": 90}}
    }},
   {"data": {"name": "power"},
    "mark": {"type": "line", "color": "#16881a", "strokeWidth": 3, "opacity": 0},
    "encoding": {
     "x": {"field": "v", "type": "quantitative", "scale": {"domain": [2.65, 3.25], "nice": false, "zero": false}, "axis": null},
     "y": {"field": "p", "type": "quantitative", "scale": {"domain": [170, 220], "nice": false, "zero": false},
       "axis": {"orient": "right", "values": [175, 185, 195, 205, 215], "tickSize": -4, "labels": false, "domain": false, "title": "P", "titleFontSize": 36, "titleFontStyle": "italic", "titleFontWeight": "bold", "titleX": 68, "titleY": 130, "titleAngle": 90}}
    }}
  ],
  "resolve": {"axis": {"y": "independent"}}}
],
"resolve": {"scale": {"y": "independent"}, "axis": {"x": "independent", "y": "independent"}}
}
]
}
